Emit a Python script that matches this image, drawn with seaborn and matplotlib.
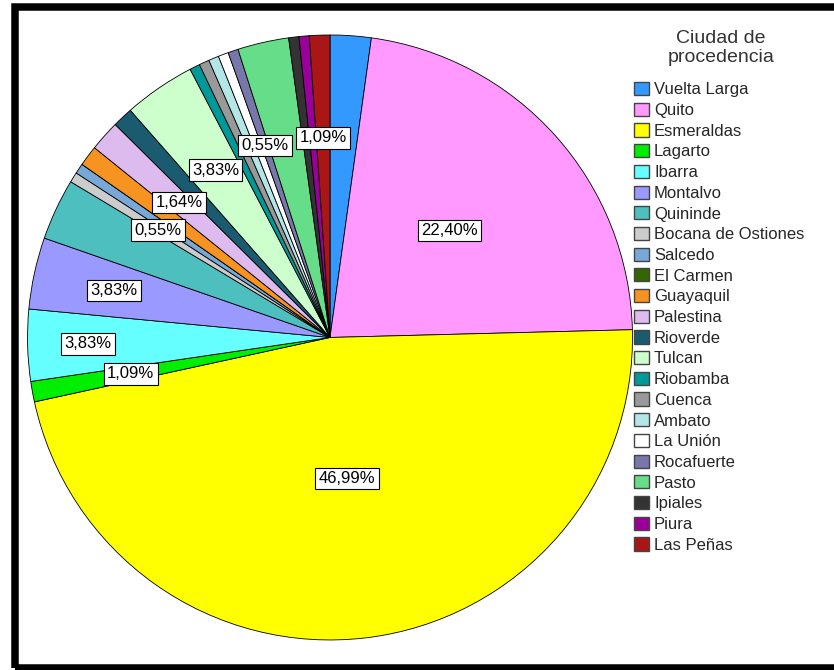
import numpy as np
import matplotlib
matplotlib.use("Agg")
import matplotlib.pyplot as plt
import seaborn as sns
from matplotlib.patches import Patch, Rectangle

sns.set_theme(style="white")
plt.rcParams["font.family"] = ["Liberation Sans", "DejaVu Sans"]

# Ciudad de procedencia (frecuencias, N = 183)
cities = ["Vuelta Larga", "Quito", "Esmeraldas", "Lagarto", "Ibarra", "Montalvo",
          "Quininde", "Bocana de Ostiones", "Salcedo", "El Carmen", "Guayaquil",
          "Palestina", "Rioverde", "Tulcan", "Riobamba", "Cuenca", "Ambato",
          "La Unión", "Rocafuerte", "Pasto", "Ipiales", "Piura", "Las Peñas"]
counts = [4, 41, 86, 2, 7, 7, 6, 1, 1, 0, 2, 3, 2, 7, 1, 1, 1, 1, 1, 5, 1, 1, 2]
colors = ["#3399FF", "#FF99FF", "#FFFF00", "#00EE00", "#66FFFF", "#9999FF",
          "#4DBFBF", "#CCCCCC", "#77A8D8", "#336600", "#F79320", "#DDBBEE",
          "#1B5B70", "#CCFFCC", "#009999", "#999999", "#B3E6E6", "#FFFFFF",
          "#7777AA", "#66DD88", "#333333", "#990099", "#AA1515"]

# which slices carry a percentage label, and how far out (fraction of radius)
label_radius = {"Quito": 0.53, "Esmeraldas": 0.47, "Lagarto": 0.67, "Ibarra": 0.80,
                "Montalvo": 0.73, "Bocana de Ostiones": 0.67, "Palestina": 0.67,
                "Tulcan": 0.67, "Rocafuerte": 0.67, "Las Peñas": 0.66}

palette = sns.color_palette(colors)
total = sum(counts)

fig = plt.figure(figsize=(8.34, 6.70), dpi=100)
ax = fig.add_axes([0.033, 0.0448, 0.7254, 0.903])

wedges, _ = ax.pie(counts, colors=palette, startangle=90, counterclock=False,
                   wedgeprops=dict(edgecolor="black", linewidth=0.6))
ax.set_xlim(-1, 1)
ax.set_ylim(-1, 1)
ax.set_aspect("equal")
ax.axis("off")

for w, name, c in zip(wedges, cities, counts):
    if name not in label_radius:
        continue
    ang = np.deg2rad((w.theta1 + w.theta2) / 2)
    r = label_radius[name]
    txt = f"{100 * c / total:.2f}".replace(".", ",") + "%"
    ax.text(r * np.cos(ang), r * np.sin(ang), txt, ha="center", va="center",
            fontsize=12, color="black",
            bbox=dict(boxstyle="square,pad=0.2", fc="white", ec="black", lw=0.8))

handles = [Patch(facecolor=col, edgecolor="#444444", linewidth=1.0) for col in palette]
fig.legend(handles, cities, loc="upper left", bbox_to_anchor=(634 / 834, 1 - 82 / 670),
           frameon=False, fontsize=12, handlelength=0.9, handleheight=0.84,
           handletextpad=0.3, labelspacing=0.32, borderpad=0, borderaxespad=0)
fig.text(721 / 834, 1 - 48 / 670, "Ciudad de\nprocedencia", ha="center", va="center",
         fontsize=14, color="#333333", linespacing=1.19)

# thick black frame (right side falls outside the image)
fig.patches.append(Rectangle((14.5 / 834, 1 - 668 / 670), 1.2, (668 - 7) / 670,
                             transform=fig.transFigure, fill=False,
                             edgecolor="black", linewidth=5.4, clip_on=False))

fig.savefig("out.png", dpi=100, facecolor="white")
